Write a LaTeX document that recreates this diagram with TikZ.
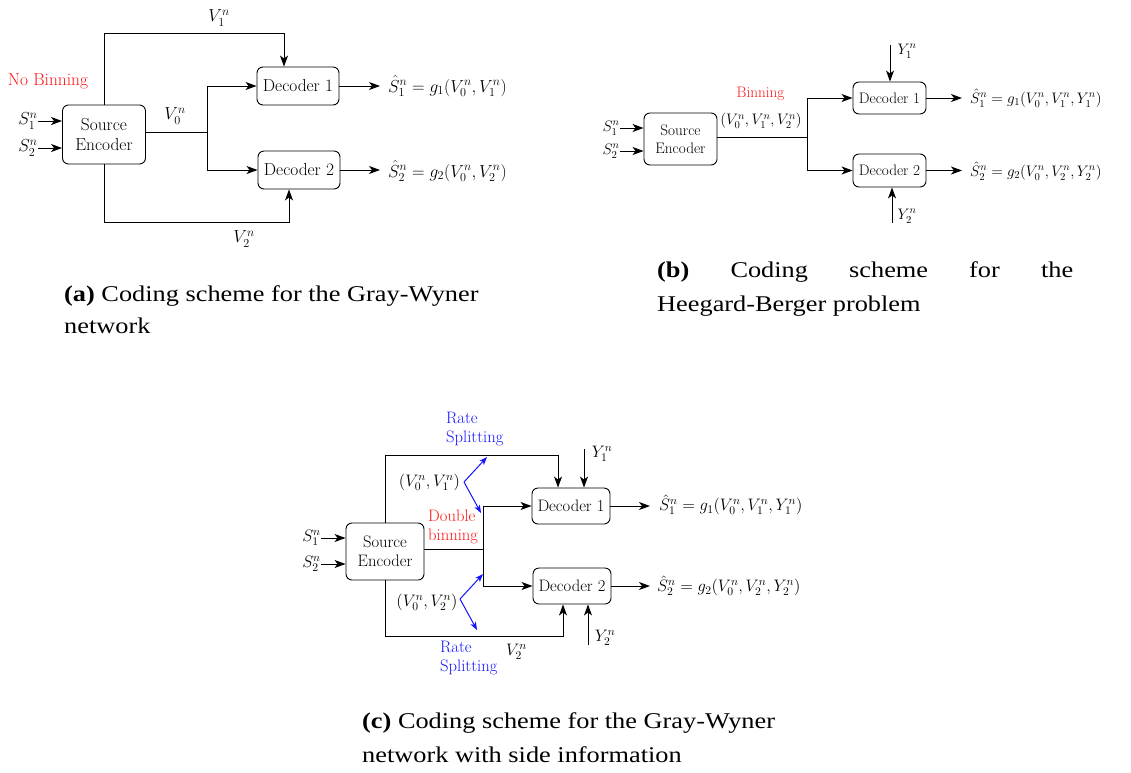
\RequirePackage{fix-cm}
\documentclass[tikz,border=0pt]{standalone}
\usepackage{fontspec}
\newfontfamily\capfont[FakeStretch=1.17]{Liberation Serif}
\usetikzlibrary{arrows.meta}
\definecolor{binred}{RGB}{255,20,20}
\definecolor{rsblue}{RGB}{20,20,255}
\tikzset{
  box/.style={draw, rounded corners=6pt, line width=0.9pt, align=center, inner sep=0pt},
  conn/.style={line width=1pt},
  arr/.style={conn, -{Stealth[length=11pt,width=8pt,inset=3pt]}},
  barr/.style={line width=1pt, draw=rsblue, -{Stealth[length=8pt,width=6pt,inset=2pt]}},
  lab/.style={inner sep=0pt},
  redlab/.style={text=binred, inner sep=0pt, align=left},
  bluelab/.style={text=rsblue, inner sep=0pt, align=left},
  capline/.style={anchor=base west, inner sep=0pt, font=\capfont\fontsize{22.5}{27}\selectfont},
}
\begin{document}
\begin{tikzpicture}[x=1pt,y=-1pt]
\useasboundingbox (0,0) rectangle (1131,772);

% ---------------- Panel (a) ----------------
\begin{scope}[font=\fontsize{17.4}{20}\selectfont]
\node[box, minimum width=83pt, minimum height=59pt] (encA) at (104,134.5) {Source\\Encoder};
\node[box, minimum width=82pt, minimum height=38pt] (decA1) at (298,86) {Decoder 1};
\node[box, minimum width=82pt, minimum height=38pt] (decA2) at (299,170) {Decoder 2};
\node[lab] (sA1) at (28,121) {$S_1^n$};
\node[lab] (sA2) at (28,148) {$S_2^n$};
\draw[arr] (sA1.east) -- (encA.west |- sA1.east);
\draw[arr] (sA2.east) -- (encA.west |- sA2.east);
\coordinate (tA) at (0,33);
\draw[arr] (encA.north) -- (encA.north |- tA) -| ([xshift=-14pt]decA1.north);
\coordinate (jA) at (207,132);
\draw[conn] (encA.east |- jA) -- (jA);
\draw[arr] (jA) |- (decA1.west);
\draw[arr] (jA) |- (decA2.west);
\coordinate (bA) at (0,222);
\draw[arr] (encA.south) -- (encA.south |- bA) -| ([xshift=-10pt]decA2.south);
\node[anchor=west, inner sep=0pt] (oA1) at (388,86) {$\hat{S}_1^n = g_1(V_0^n,V_1^n)$};
\node[anchor=west, inner sep=0pt] (oA2) at (388,171) {$\hat{S}_2^n = g_2(V_0^n,V_2^n)$};
\draw[arr] (decA1.east) -- ([xshift=-8pt]oA1.west);
\draw[arr] (decA2.east) -- ([xshift=-8pt]oA2.west |- decA2.east);
\node[lab] (vA1) at (219,18) {$V_1^n$};
\node[lab] (vA0) at (175,116) {$V_0^n$};
\node[lab] (vA2) at (244,239) {$V_2^n$};
\node[redlab] (nbA) at (48,81) {No Binning};
\end{scope}

% ---------------- Panel (b) ----------------
\begin{scope}[font=\fontsize{15.2}{18.5}\selectfont]
\node[box, minimum width=73pt, minimum height=52pt] (encB) at (680.5,139) {Source\\Encoder};
\node[box, minimum width=73pt, minimum height=32pt] (decB1) at (889.5,98) {Decoder 1};
\node[box, minimum width=73pt, minimum height=33pt] (decB2) at (889.5,170.5) {Decoder 2};
\node[lab] (sB1) at (611,128) {$S_1^n$};
\node[lab] (sB2) at (611,151) {$S_2^n$};
\draw[arr] (sB1.east) -- (encB.west |- sB1.east);
\draw[arr] (sB2.east) -- (encB.west |- sB2.east);
\coordinate (jB) at (807,137);
\draw[conn] (encB.east |- jB) -- (jB);
\draw[arr] (jB) |- (decB1.west);
\draw[arr] (jB) |- (decB2.west);
\coordinate (yB1) at (890,45);
\draw[arr] (yB1) -- (yB1 |- decB1.north);
\node[lab] (yB1l) at (907,51) {$Y_1^n$};
\coordinate (yB2) at (892,223);
\draw[arr] (yB2) -- (yB2 |- decB2.south);
\node[lab] (yB2l) at (907,216) {$Y_2^n$};
\node[anchor=west, inner sep=0pt] (oB1) at (970,98) {$\hat{S}_1^n = g_1(V_0^n,V_1^n,Y_1^n)$};
\node[anchor=west, inner sep=0pt] (oB2) at (970,171) {$\hat{S}_2^n = g_2(V_0^n,V_2^n,Y_2^n)$};
\draw[arr] (decB1.east) -- ([xshift=-8pt]oB1.west |- decB1.east);
\draw[arr] (decB2.east) -- ([xshift=-8pt]oB2.west |- decB2.east);
\node[redlab] (binB) at (760.5,94) {Binning};
\node[lab] (tupB) at (761,121) {$(V_0^n,V_1^n,V_2^n)$};
\end{scope}

% ---------------- Panel (c) ----------------
\begin{scope}[font=\fontsize{16.6}{19.5}\selectfont]
\node[box, minimum width=78pt, minimum height=57pt] (encC) at (385,551.5) {Source\\Encoder};
\node[box, minimum width=78pt, minimum height=36pt] (decC1) at (571,506) {Decoder 1};
\node[box, minimum width=78pt, minimum height=36pt] (decC2) at (572,586) {Decoder 2};
\node[lab] (sC1) at (311.5,538) {$S_1^n$};
\node[lab] (sC2) at (311.5,564) {$S_2^n$};
\draw[arr] (sC1.east) -- (encC.west |- sC1.east);
\draw[arr] (sC2.east) -- (encC.west |- sC2.east);
\coordinate (tC) at (0,455);
\draw[arr] (encC.north) -- (encC.north |- tC) -| ([xshift=-13pt]decC1.north);
\coordinate (yC1) at (584,449);
\draw[arr] (yC1) -- (yC1 |- decC1.north);
\node[lab] (yC1l) at (602,454) {$Y_1^n$};
\coordinate (jC) at (483,549);
\draw[conn] (encC.east |- jC) -- (jC);
\draw[arr] (jC) |- (decC1.west);
\draw[arr] (jC) |- (decC2.west);
\coordinate (bC) at (0,636);
\draw[arr] (encC.south) -- (encC.south |- bC) -| ([xshift=-9pt]decC2.south);
\coordinate (yC2) at (588,645);
\draw[arr] (yC2) -- (yC2 |- decC2.south);
\node[lab] (yC2l) at (605,638) {$Y_2^n$};
\node[anchor=west, inner sep=0pt] (oC1) at (659,505) {$\hat{S}_1^n = g_1(V_0^n,V_1^n,Y_1^n)$};
\node[anchor=west, inner sep=0pt] (oC2) at (657,586) {$\hat{S}_2^n = g_2(V_0^n,V_2^n,Y_2^n)$};
\draw[arr] (decC1.east) -- ([xshift=-9pt]oC1.west |- decC1.east);
\draw[arr] (decC2.east) -- ([xshift=-7pt]oC2.west |- decC2.east);
\coordinate (bu0) at (464,482);
\coordinate (bu1) at (487,457);
\coordinate (bu2) at (481,513);
\draw[barr] (bu0) -- (bu1);
\draw[barr] (bu0) -- (bu2);
\coordinate (bl0) at (460,599);
\coordinate (bl1) at (483,574);
\coordinate (bl2) at (477,630);
\draw[barr] (bl0) -- (bl1);
\draw[barr] (bl0) -- (bl2);
\node[lab] (tupC1) at (429.5,482) {$(V_0^n,V_1^n)$};
\node[lab] (tupC2) at (427,602) {$(V_0^n,V_2^n)$};
\node[bluelab, anchor=west] (rsC1) at (446,429) {Rate\\Splitting};
\node[bluelab, anchor=west] (rsC2) at (440,658) {Rate\\Splitting};
\node[redlab, anchor=west] (dbC) at (428,527) {Double\\binning};
\node[lab] (vC2) at (516.5,652) {$V_2^n$};
\end{scope}

% ---------------- Captions ----------------
\node[capline] (capA1) at (64,301) {\textbf{(a)} Coding scheme for the Gray-Wyner};
\node[capline] (capA2) at (64,333) {network};
\node[capline] (capB1) at (657,277) {\hbox to 416pt{\textbf{(b)}\hfill Coding\hfill scheme\hfill for\hfill the}};
\node[capline] (capB2) at (657,311) {Heegard-Berger problem};
\node[capline] (capC1) at (362,728) {\textbf{(c)} Coding scheme for the Gray-Wyner};
\node[capline] (capC2) at (362,762) {network with side information};
\end{tikzpicture}
\end{document}
